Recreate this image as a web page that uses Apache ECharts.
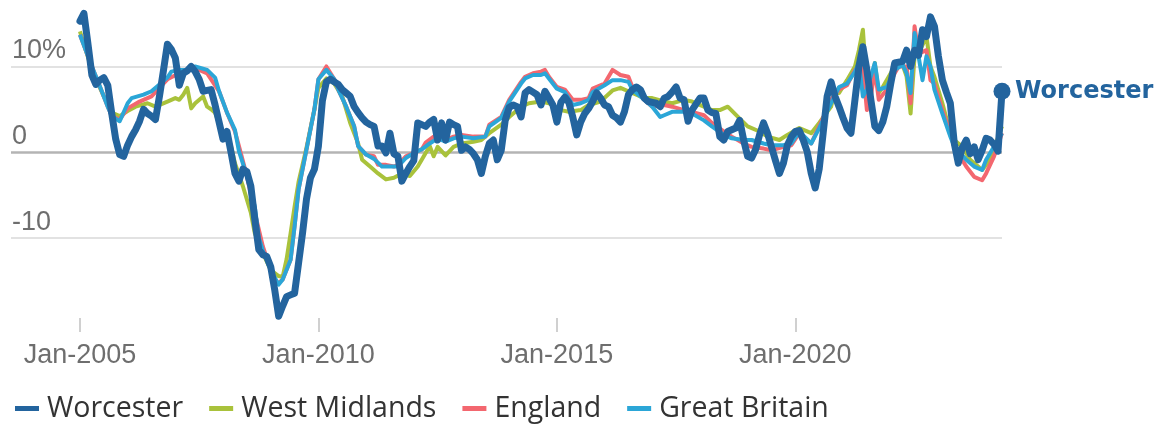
<!DOCTYPE html>
<html>
<head>
<meta charset="utf-8">
<script src="https://cdn.jsdelivr.net/npm/echarts@6/dist/echarts.min.js"></script>
<style>
  html, body { margin: 0; padding: 0; background: #fff; }
  #chart { width: 1162px; height: 425px; }
</style>
</head>
<body>
<div id="chart"></div>
<script>
// x values are months since Jan-2005
const tickMonths = [0, 60, 120, 180];
const tickLabels = ['Jan-2005', 'Jan-2010', 'Jan-2015', 'Jan-2020'];
const yTicks = [-10, 0, 10];

// Worcester, one value per month from Jan-2005
const worcester = [
  15.3, 16.2, 12.7, 9.0, 7.9, 8.4, 8.7, 7.8, 4.5, 1.5, -0.3, -0.5,
  0.8, 1.8, 2.6, 3.6, 5.0, 4.5, 4.2, 3.8, 6.5, 9.5, 12.6, 12.0,
  11.0, 7.8, 9.2, 9.5, 10.0, 9.4, 8.5, 7.1, 7.2, 7.3, 5.5, 3.5,
  1.5, 2.4, 0.0, -2.5, -3.4, -2.0, -2.3, -4.0, -7.9, -11.4, -12.0, -12.2,
  -13.4, -16.1, -19.2, -18.0, -16.9, -16.7, -16.5, -13.0, -9.5, -5.5, -3.0, -2.0,
  0.7, 6.0, 8.2, 8.5, 8.2, 7.9, 7.3, 6.9, 6.5, 5.3, 4.6, 4.0,
  3.5, 3.2, 3.0, 0.7, 0.7, -0.1, 2.2, -0.2, -0.5, -3.4, -2.5, -1.7,
  -1.0, 3.4, 3.2, 3.0, 3.5, 3.8, 1.4, 3.4, 1.4, 3.5, 3.2, 3.0,
  0.2, 0.6, 0.3, -0.2, -0.9, -2.5, -0.5, 1.0, 1.4, -0.9, 0.2, 3.7,
  5.2, 5.5, 5.3, 4.1, 6.9, 7.3, 7.0, 6.7, 5.5, 7.1, 6.3, 5.5,
  3.5, 5.8, 6.4, 5.8, 4.1, 2.0, 3.5, 4.5, 5.1, 5.9, 6.9, 6.3,
  5.5, 5.3, 4.3, 4.0, 3.5, 4.7, 6.7, 7.3, 7.6, 7.3, 6.3, 5.9,
  5.8, 5.7, 5.3, 6.3, 6.5, 7.0, 7.6, 6.3, 6.1, 3.6, 4.9, 5.6,
  6.3, 6.3, 4.9, 4.6, 4.5, 1.8, 1.4, 2.4, 2.6, 2.8, 3.7, 1.4,
  -0.5, -0.7, 0.3, 2.0, 3.4, 2.2, 0.6, -1.0, -2.5, -1.3, 0.8, 1.8,
  2.4, 2.5, 1.4, 0.0, -2.5, -4.2, -2.0, 2.2, 6.5, 8.2, 6.5, 5.3,
  4.0, 2.8, 2.2, 6.1, 10.0, 12.3, 9.6, 6.1, 3.0, 2.5, 3.5, 5.3,
  8.0, 10.4, 10.5, 10.6, 11.9, 10.0, 11.9, 11.3, 14.3, 13.5, 15.8, 14.7,
  11.2, 8.4, 7.0, 5.7, 1.0, -1.3, 0.5, 1.4, -0.2, 0.6, -0.9, 0.2,
  1.6, 1.4, 0.9, 0.1, 7.1
];

// [month, value]
const westMidlands = [
  [0,14.1],[3,9.6],[6,6.5],[8,4.6],[10,4.2],[12,4.8],[14,5.3],[17,5.7],[19,5.3],[22,5.9],
  [24,6.3],[25,6.1],[26,6.7],[27,7.5],[28,5.1],[29,5.7],[31,6.5],[32,5.3],[33,5.0],[34,4.6],
  [36,2.2],[38,0.7],[39,-1.3],[41,-4.0],[43,-7.1],[44,-9.5],[46,-11.8],[48,-13.8],[50,-14.5],
  [51,-14.6],[52,-12.5],[53,-9.5],[54,-6.4],[55,-3.5],[57,0.5],[59,5.0],[60,7.5],[62,8.6],
  [64,8.0],[66,6.5],[68,3.4],[70,1.0],[71,-0.9],[73,-1.7],[75,-2.5],[77,-3.2],[79,-3.0],
  [81,-2.5],[83,-2.8],[85,-1.7],[86,-0.9],[88,0.7],[89,-0.5],[90,0.6],[92,-0.4],[94,0.6],
  [96,1.0],[99,1.2],[101,1.4],[103,2.2],[106,3.2],[108,4.1],[111,5.3],[113,5.7],[116,5.9],
  [118,5.7],[121,4.9],[123,4.7],[126,4.9],[128,5.5],[131,5.9],[134,7.2],[136,7.5],[139,6.9],
  [142,6.3],[144,6.3],[147,5.9],[149,5.7],[152,6.1],[154,5.9],[157,5.3],[159,4.9],[161,4.9],
  [163,5.3],[166,3.9],[168,3.0],[171,2.4],[173,1.8],[176,1.4],[178,2.0],[181,2.8],[184,2.2],
  [186,3.4],[189,5.3],[190,7.3],[191,6.9],[193,8.4],[195,10.0],[196,11.9],[197,14.3],[198,7.6],
  [199,7.6],[200,10.4],[201,6.9],[202,7.6],[204,9.2],[205,10.0],[207,10.2],[208,8.8],[209,4.5],
  [210,11.2],[211,11.5],[213,13.5],[214,10.0],[215,8.8],[217,5.7],[219,2.2],[220,1.4],[222,0.6],
  [224,-0.9],[226,-1.7],[227,-2.1],[229,-0.9],[232,3.0]
];

const england = [
  [0,13.7],[3,10.0],[5,7.7],[7,5.3],[8,4.2],[10,3.8],[12,5.1],[15,5.9],[18,6.5],[22,8.5],
  [25,9.2],[29,9.8],[32,9.2],[35,7.1],[37,4.6],[39,2.4],[40,0.7],[42,-2.8],[44,-7.1],[46,-11.0],
  [48,-13.8],[49,-15.1],[50,-15.3],[51,-14.9],[53,-12.6],[54,-8.7],[55,-4.4],[57,0.3],[59,5.0],
  [60,8.5],[62,10.0],[64,8.5],[65,7.3],[67,5.3],[69,3.0],[70,0.7],[72,-0.3],[74,-0.5],[75,-1.5],
  [77,-1.5],[79,-1.7],[80,-1.5],[82,-0.5],[84,-0.1],[86,0.3],[87,1.1],[89,1.8],[92,1.4],[94,1.8],
  [96,2.0],[99,1.8],[102,1.8],[103,3.2],[106,4.1],[108,6.1],[111,8.2],[112,8.8],[114,9.2],[116,9.4],
  [117,9.6],[118,8.8],[120,7.6],[122,7.3],[124,6.1],[126,6.1],[128,6.3],[129,7.4],[132,8.0],[134,9.6],
  [136,9.0],[138,8.8],[139,7.6],[142,6.1],[144,5.3],[147,5.5],[149,5.3],[152,4.9],[154,4.7],[157,4.3],
  [159,3.4],[162,2.4],[164,1.8],[167,1.0],[169,0.6],[172,0.4],[174,0.2],[177,0.6],[179,0.8],[181,2.2],
  [184,1.0],[186,3.0],[189,6.1],[191,7.3],[193,7.8],[195,9.6],[197,10.0],[198,4.9],[199,6.5],[200,9.6],
  [201,6.1],[203,7.3],[205,9.2],[206,10.0],[208,10.0],[209,5.7],[210,14.7],[211,11.5],[213,11.9],
  [214,8.4],[215,8.0],[217,4.9],[219,2.2],[220,0.6],[223,-1.7],[225,-2.9],[227,-3.3],[228,-2.5],
  [230,-0.5],[232,2.2]
];

const greatBritain = [
  [0,13.7],[3,10.0],[5,7.7],[7,5.3],[8,4.2],[10,3.6],[12,5.7],[13,6.3],[16,6.7],[18,7.1],
  [20,7.9],[22,8.7],[23,9.4],[25,9.6],[27,9.6],[29,10.0],[32,9.6],[34,8.7],[35,7.1],[37,4.6],
  [39,2.6],[40,0.1],[42,-2.8],[44,-6.4],[45,-10.0],[46,-11.5],[48,-13.8],[50,-15.5],[51,-14.9],
  [53,-12.6],[54,-8.7],[55,-4.4],[57,0.3],[59,5.0],[60,8.5],[62,9.6],[64,8.5],[65,7.3],[67,5.3],
  [69,3.0],[70,0.7],[72,-0.3],[74,-0.8],[76,-1.7],[78,-1.7],[80,-1.7],[82,-0.7],[84,-0.1],[86,0.3],
  [88,1.0],[90,1.6],[92,1.2],[94,1.6],[96,1.8],[99,1.6],[102,1.8],[103,3.0],[106,4.0],[108,5.9],
  [111,8.0],[112,8.6],[114,9.0],[116,9.0],[117,9.2],[118,8.6],[120,7.4],[122,7.0],[124,5.5],[126,5.7],
  [128,6.1],[129,7.0],[132,7.8],[134,8.4],[136,8.4],[138,8.2],[139,7.3],[142,6.1],[144,5.3],[146,4.1],
  [147,4.3],[149,4.7],[152,4.7],[154,4.5],[157,3.7],[159,3.0],[162,2.0],[164,1.6],[167,1.4],[169,1.4],
  [172,1.0],[174,0.8],[177,0.8],[179,1.0],[181,2.4],[184,1.0],[186,2.8],[189,5.7],[191,7.6],[193,8.0],
  [195,9.4],[196,10.4],[197,6.5],[198,7.3],[200,10.4],[201,7.3],[203,7.6],[205,9.6],[207,10.2],
  [208,9.2],[209,6.9],[210,13.9],[211,11.2],[212,8.4],[213,11.2],[214,10.0],[215,7.3],[217,4.5],
  [219,1.8],[220,0.6],[223,-0.9],[225,-1.7],[227,-2.1],[228,-0.9],[232,2.2]
];

const colors = {
  worcester: '#23649e',
  westMidlands: '#a9c23b',
  england: '#f3676f',
  greatBritain: '#2ba6d7'
};

const worcesterData = worcester.map((v, i) => {
  if (i === worcester.length - 1) {
    return { value: [i, v], symbol: 'circle', symbolSize: 17 };
  }
  return [i, v];
});

const chart = echarts.init(document.getElementById('chart'));

const option = {
  animation: false,
  grid: { left: 11, right: 160, top: 10, bottom: 107, outerBoundsMode: 'none' },
  legend: {
    data: ['Worcester', 'West Midlands', 'England', 'Great Britain'],
    left: 10,
    top: 389,
    icon: 'rect',
    itemWidth: 24,
    itemHeight: 5,
    itemGap: 26,
    textStyle: {
      fontFamily: 'Open Sans',
      fontSize: 28.5,
      color: '#333',
      padding: [0, 0, 0, 3]
    }
  },
  xAxis: {
    type: 'value',
    min: -17.35,
    max: 232,
    axisLine: { show: false, onZero: false },
    splitLine: { show: false },
    axisTick: {
      show: true,
      customValues: tickMonths,
      length: 14,
      lineStyle: { color: '#d0d0d0', width: 2 }
    },
    axisLabel: {
      customValues: tickMonths,
      formatter: (v) => tickLabels[tickMonths.indexOf(v)],
      fontFamily: 'Liberation Sans',
      fontSize: 27,
      color: '#6e6e6e',
      margin: 24
    }
  },
  yAxis: {
    type: 'value',
    min: -19.4,
    max: 16.6,
    axisLine: { show: false },
    axisTick: { show: false },
    splitLine: { show: false },
    axisLabel: {
      customValues: yTicks,
      inside: true,
      align: 'left',
      verticalAlign: 'bottom',
      margin: 1,
      padding: [0, 0, 2, 0],
      formatter: (v) => (v === 10 ? '10%' : String(v)),
      fontFamily: 'Liberation Sans',
      fontSize: 27,
      color: '#6e6e6e'
    }
  },
  series: [
    {
      name: 'West Midlands',
      type: 'line',
      data: westMidlands,
      symbol: 'none',
      color: colors.westMidlands,
      lineStyle: { width: 4, join: 'round' },
      markLine: {
        silent: true,
        symbol: 'none',
        z: 1,
        label: { show: false },
        data: [
          { yAxis: 10, lineStyle: { color: '#e2e2e2', width: 2, type: 'solid' } },
          { yAxis: -10, lineStyle: { color: '#e2e2e2', width: 2, type: 'solid' } },
          { yAxis: 0, lineStyle: { color: '#b4b4b4', width: 2.5, type: 'solid' } }
        ]
      }
    },
    {
      name: 'England',
      type: 'line',
      data: england,
      symbol: 'none',
      color: colors.england,
      lineStyle: { width: 4, join: 'round' }
    },
    {
      name: 'Great Britain',
      type: 'line',
      data: greatBritain,
      symbol: 'none',
      color: colors.greatBritain,
      lineStyle: { width: 4, join: 'round' }
    },
    {
      name: 'Worcester',
      type: 'line',
      data: worcesterData,
      symbol: 'none',
      showAllSymbol: true,
      color: colors.worcester,
      lineStyle: { width: 7, join: 'round', cap: 'round' },
      endLabel: {
        show: true,
        formatter: 'Worcester',
        distance: 13,
        fontFamily: 'DejaVu Sans',
        fontWeight: 'bold',
        fontSize: 24,
        color: colors.worcester
      }
    }
  ]
};

chart.setOption(option);
</script>
</body>
</html>
